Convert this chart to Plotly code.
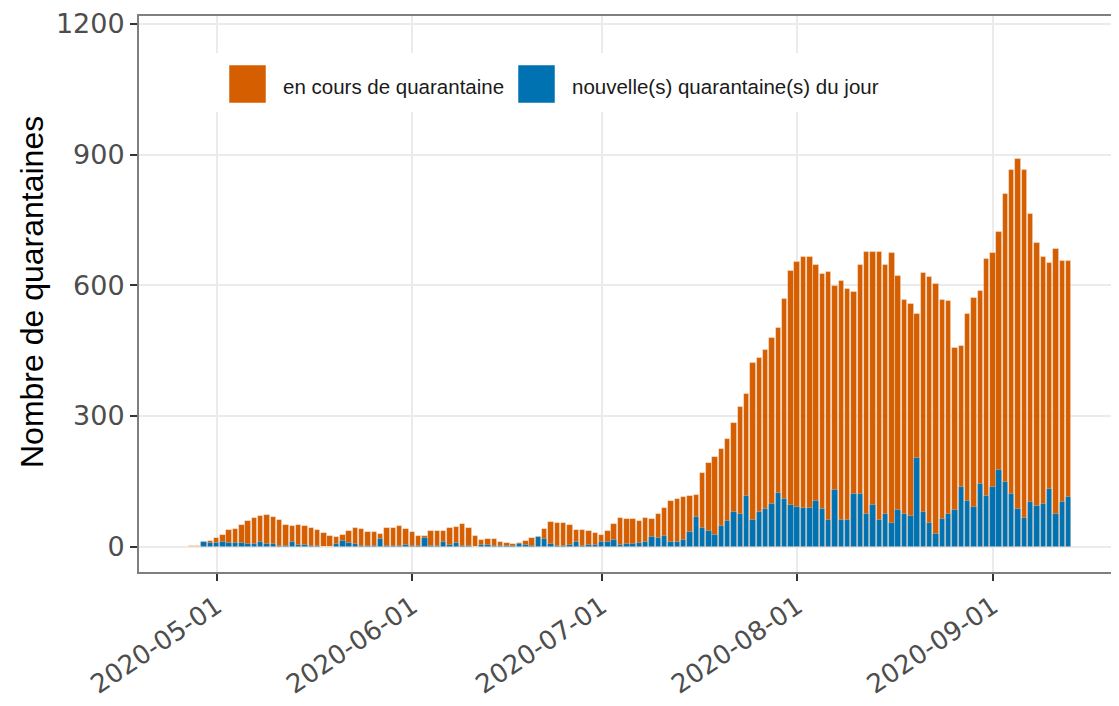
import plotly.graph_objects as go
import pandas as pd

# ---------------- data ----------------
start_date = "2020-04-27"

# en cours de quarantaine (27 Apr -> 13 Sep 2020)
en_cours_avr = [2, 2, 12, 14]
en_cours_mai = [21, 28, 39, 40, 50, 58, 65, 71, 73, 69, 62, 50, 47, 50, 47, 44, 38, 31, 24, 23,
                28, 36, 42, 41, 33, 33, 29, 44, 44, 47, 40]
en_cours_juin = [33, 25, 25, 37, 37, 35, 42, 46, 52, 42, 24, 15, 18, 18, 10, 8, 6, 8, 14, 19,
                 23, 41, 56, 54, 54, 49, 38, 38, 36, 31]
en_cours_juil = [28, 37, 52, 67, 64, 63, 60, 65, 64, 76, 88, 104, 109, 113, 117, 118, 169, 192, 206, 224,
                 248, 283, 320, 350, 422, 433, 452, 480, 502, 568, 632]
en_cours_aout = [654, 665, 665, 647, 626, 630, 599, 610, 591, 585, 646, 677, 677, 677, 647, 675, 622, 566, 558, 535,
                 628, 618, 604, 566, 563, 455, 460, 534, 571, 587, 660]
en_cours_sept = [674, 723, 809, 865, 889, 865, 763, 698, 664, 651, 683, 655, 655]

# nouvelle(s) quarantaine(s) du jour
nouv_avr = [0, 0, 12, 8]
nouv_mai = [8, 12, 9, 9, 9, 6, 6, 11, 6, 6, 2, 2, 10, 4, 4, 2, 2, 0, 0, 6,
            14, 8, 6, 2, 2, 2, 17, 2, 2, 2, 3]
nouv_juin = [2, 2, 20, 2, 2, 10, 4, 9, 2, 2, 0, 4, 5, 2, 2, 2, 2, 6, 4, 2,
             23, 18, 6, 2, 2, 4, 12, 2, 4, 5]
nouv_juil = [12, 12, 16, 4, 7, 6, 9, 11, 23, 21, 24, 12, 12, 16, 33, 69, 42, 37, 27, 47,
             59, 80, 74, 117, 62, 80, 86, 99, 124, 109, 96]
nouv_aout = [92, 90, 89, 106, 86, 62, 130, 62, 62, 122, 121, 74, 96, 62, 74, 54, 85, 74, 70, 204,
             79, 54, 29, 63, 74, 85, 138, 105, 92, 144, 116]
nouv_sept = [136, 176, 149, 121, 86, 65, 102, 93, 99, 132, 74, 103, 113]

en_cours = en_cours_avr + en_cours_mai + en_cours_juin + en_cours_juil + en_cours_aout + en_cours_sept
nouvelles = nouv_avr + nouv_mai + nouv_juin + nouv_juil + nouv_aout + nouv_sept
dates = pd.date_range(start_date, periods=len(en_cours), freq="D")

x_ticks = ["2020-05-01", "2020-06-01", "2020-07-01", "2020-08-01", "2020-09-01"]
y_ticks = [0, 300, 600, 900, 1200]

series_names = ["en cours de quarantaine", "nouvelle(s) quarantaine(s) du jour"]
series_colors = ["#D55E00", "#0072B2"]

# ---------------- layout helpers ----------------
OFF = 8                      # default page body margin
W, H = 1111, 698
L, T = 139 - OFF, 16 - OFF
R = W - (1118 - OFF)
B = H - (572 - OFF)
pw, ph = W - L - R, H - T - B


def px(sx):
    """screen x -> paper x"""
    return (sx - OFF - L) / pw


def py(sy):
    """screen y -> paper y"""
    return (H - B - (sy - OFF)) / ph


day_ms = 86400000
bar_w = 0.86 * day_ms

fig = go.Figure()
fig.add_trace(go.Bar(
    x=dates, y=en_cours, name=series_names[0], width=bar_w,
    marker=dict(color=series_colors[0], line=dict(color="rgba(255,255,255,0.45)", width=0.8)),
    showlegend=False,
))
fig.add_trace(go.Bar(
    x=dates, y=nouvelles, name=series_names[1], width=bar_w,
    marker=dict(color=series_colors[1], line=dict(color="rgba(255,255,255,0.35)", width=0.8)),
    showlegend=False,
))

fig.update_layout(
    width=W, height=H,
    margin=dict(l=L, r=R, t=T, b=B, autoexpand=False),
    paper_bgcolor="white", plot_bgcolor="white",
    barmode="overlay", bargap=0,
    xaxis=dict(
        type="date",
        range=["2020-04-18 17:00", "2020-09-20 20:00"],
        tickvals=x_ticks, tickformat="%Y-%m-%d", tickangle=-34,
        ticks="outside", ticklen=7, tickwidth=2, tickcolor="#333333",
        showgrid=True, gridcolor="#ebebeb", gridwidth=1.6,
        showline=True, linecolor="#7f7f7f", linewidth=2, mirror=True,
        tickfont=dict(family="DejaVu Sans", size=26, color="#4d4d4d"),
        automargin=False, zeroline=False,
    ),
    yaxis=dict(
        range=[-58, 1218], tickvals=y_ticks,
        ticks="outside", ticklen=7, tickwidth=2, tickcolor="#333333",
        showgrid=True, gridcolor="#ebebeb", gridwidth=1.6,
        showline=True, linecolor="#7f7f7f", linewidth=2, mirror=True,
        tickfont=dict(family="DejaVu Sans", size=27, color="#4d4d4d"),
        automargin=False, zeroline=False,
    ),
)

# y axis title
fig.add_annotation(
    text="Nombre de quarantaines", textangle=-90, showarrow=False,
    xref="paper", yref="paper", x=px(32), y=py(292),
    xanchor="center", yanchor="middle",
    font=dict(family="Liberation Sans", size=32, color="black"),
)

# legend (drawn inside the panel, top)
fig.add_shape(type="rect", xref="paper", yref="paper",
              x0=px(216), x1=px(890), y0=py(112), y1=py(53),
              fillcolor="white", line=dict(width=0), layer="above")
key_x = [229, 518]
text_x = [281, 570]
for i in range(2):
    fig.add_shape(type="rect", xref="paper", yref="paper",
                  x0=px(key_x[i]), x1=px(key_x[i] + 37), y0=py(103), y1=py(65),
                  fillcolor=series_colors[i],
                  line=dict(color="rgba(255,255,255,0.5)", width=1), layer="above")
    fig.add_annotation(
        text=series_names[i], showarrow=False,
        xref="paper", yref="paper", x=px(text_x[i]), y=py(86),
        xanchor="left", yanchor="middle",
        font=dict(family="Liberation Sans", size=20.5, color="#1a1a1a"),
    )

fig.write_html("out.html")
